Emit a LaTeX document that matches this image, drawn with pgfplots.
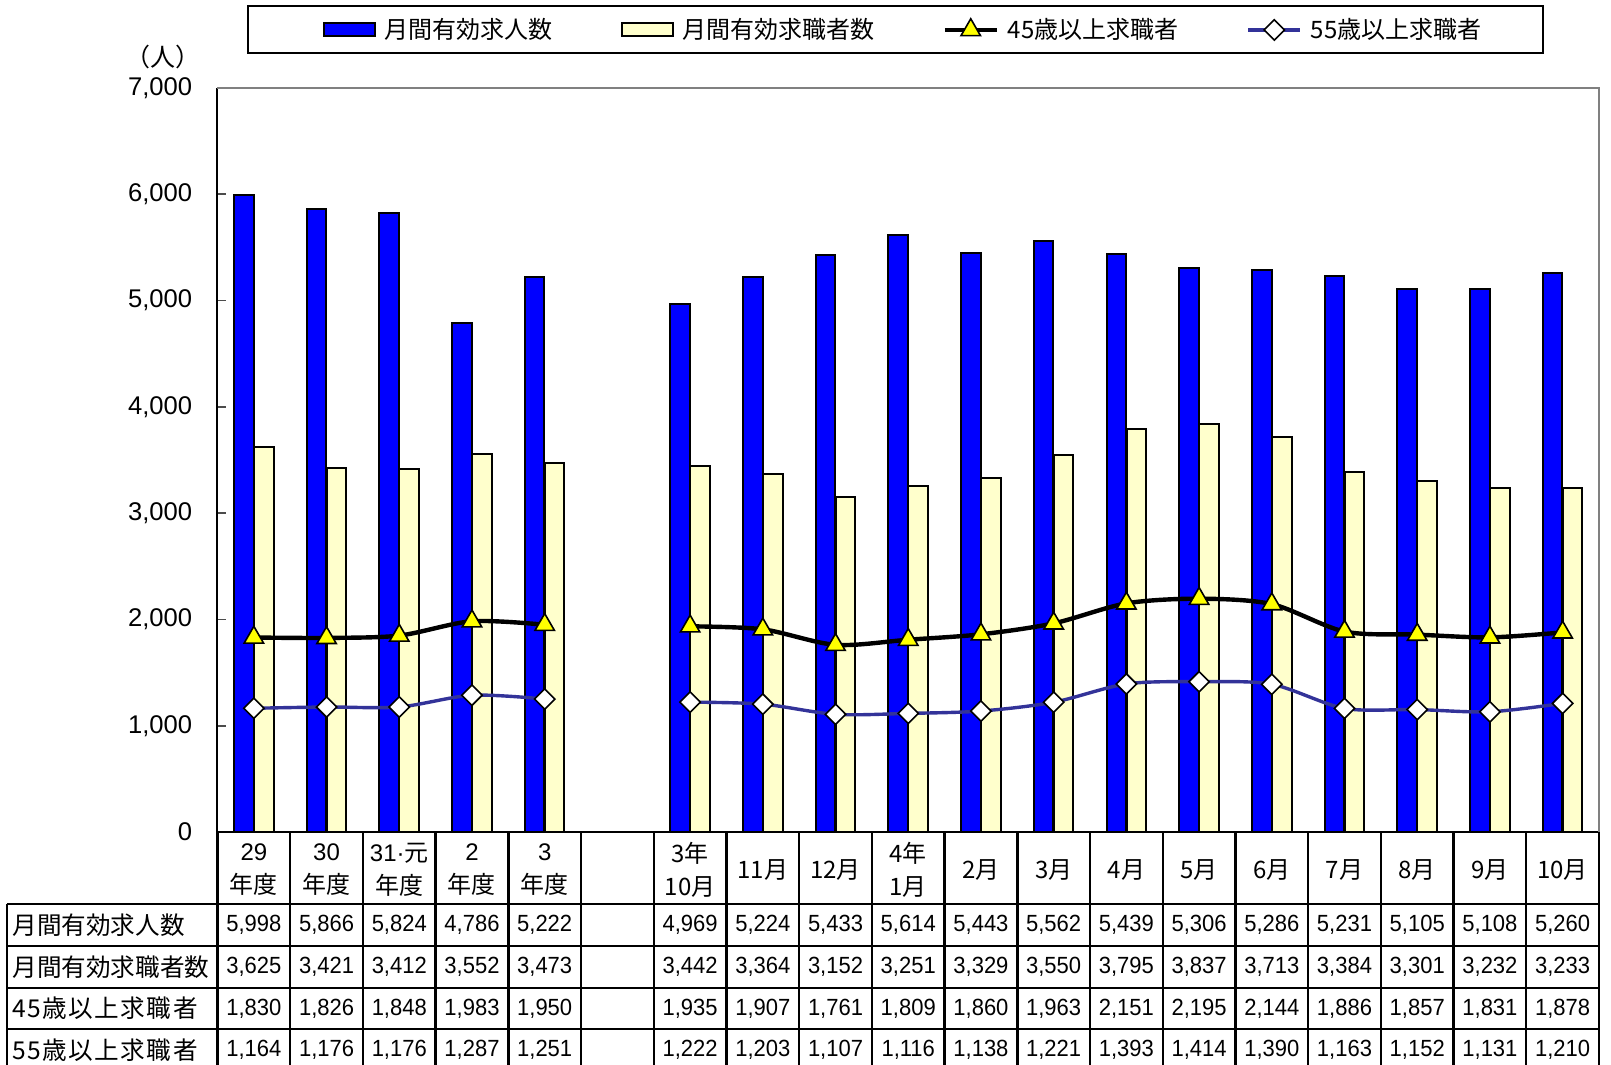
\documentclass[border=0pt]{standalone}
\usepackage{fontspec}
\setmainfont{Liberation Sans}
\newfontfamily\cjk{Noto Sans CJK JP}
\newfontfamily\latn{Liberation Sans}
\newfontfamily\numfont[FakeStretch=0.94]{Liberation Sans}
\usepackage{pgfplots}
\usepackage{pgfplotstable}
\pgfplotsset{compat=1.18}

\definecolor{jobblue}{RGB}{0,0,255}
\definecolor{cream}{RGB}{255,255,204}
\definecolor{line55}{RGB}{51,51,153}
\definecolor{tri}{RGB}{255,255,0}

\newcommand\gp{\hspace{0.06em}}

% x = slot (5 is the empty gap column)
\pgfplotstableread{
x jobs seekers s45 s55
0 5998 3625 1830 1164
1 5866 3421 1826 1176
2 5824 3412 1848 1176
3 4786 3552 1983 1287
4 5222 3473 1950 1251
}\annual

\pgfplotstableread{
x jobs seekers s45 s55
6 4969 3442 1935 1222
7 5224 3364 1907 1203
8 5433 3152 1761 1107
9 5614 3251 1809 1116
10 5443 3329 1860 1138
11 5562 3550 1963 1221
12 5439 3795 2151 1393
13 5306 3837 2195 1414
14 5286 3713 2144 1390
15 5231 3384 1886 1163
16 5105 3301 1857 1152
17 5108 3232 1831 1131
18 5260 3233 1878 1210
}\monthly

\pgfplotsset{
  barlegend/.style={legend image code/.code={%
    \draw[##1] (0pt,-3.25pt) rectangle (25.5pt,3.25pt);}},
  linelegend/.style={legend image code/.code={%
    \draw[mark repeat=2,mark phase=2,##1] plot coordinates {(0pt,0pt) (13pt,0pt) (26pt,0pt)};}},
  tablerow/.style={only marks, mark=none, forget plot, nodes near coords,
    point meta=explicit,
    nodes near coords style={anchor=center, inner sep=0pt, text=black,
      font=\fontsize{11.7}{11.7}\numfont}},
}

% one row of numbers in the table under the chart
\newcommand\tablerow[2]{%
  \addplot[tablerow] table[x=x, y expr=#2, meta=#1] {\annual};
  \addplot[tablerow] table[x=x, y expr=#2, meta=#1] {\monthly};
}

\begin{document}
\begin{tikzpicture}
  \path[use as bounding box] (-108.75pt,-116.5pt) rectangle (696.75pt,416pt);
  \begin{axis}[
    at={(0pt,0pt)}, anchor=south west,
    width=690.75pt, height=372pt,
    scale only axis,
    clip=false,
    xmin=-0.5, xmax=18.5,
    ymin=0, ymax=7000,
    axis lines*=left,
    axis line style={line width=1pt, black},
    ytick={0,1000,...,7000},
    scaled y ticks=false,
    tick align=inside,
    ytick style={line width=0.8pt, black!70},
    major tick length=4.5pt,
    /pgf/number format/.cd, 1000 sep={,}, assume math mode=true, /pgfplots/.cd,
    yticklabel style={inner sep=0pt, anchor=east, xshift=-12.5pt,
      font=\fontsize{12.8}{12.8}\latn},
    xtick={0,1,2,3,4,6,7,8,9,10,11,12,13,14,15,16,17,18},
    xtick style={draw=none},
    xticklabels={
      {{\latn 29}\\年度}, {{\latn 30}\\年度}, {{\latn 31·}元\\年度},
      {{\latn 2}\\年度}, {{\latn 3}\\年度},
      {3年\\10月}, {11月}, {12月}, {4年\\1月}, {2月}, {3月},
      {4月}, {5月}, {6月}, {7月}, {8月}, {9月}, {10月}},
    xticklabel style={align=center, anchor=center, yshift=-19pt,
      font=\fontsize{12}{16.5}\cjk},
    legend columns=4,
    legend style={at={(0.497,1.078)}, anchor=center, draw=none, fill=none,
      inner sep=0pt, font=\fontsize{12}{12}\cjk,
      /tikz/every odd column/.append style={column sep=2.5pt},
      /tikz/every even column/.append style={column sep=32pt}},
  ]

  % bars
  \addplot[ybar, bar width=9.8pt, bar shift=-5pt, fill=jobblue, draw=black,
    line width=1pt, barlegend] table[x=x, y=jobs] {\annual};
  \addlegendentry{月間有効求人数}
  \addplot[ybar, bar width=9.8pt, bar shift=-5pt, fill=jobblue, draw=black,
    line width=1pt, forget plot] table[x=x, y=jobs] {\monthly};

  \addplot[ybar, bar width=9.8pt, bar shift=5pt, fill=cream, draw=black,
    line width=1pt, barlegend] table[x=x, y=seekers] {\annual};
  \addlegendentry{月間有効求職者数}
  \addplot[ybar, bar width=9.8pt, bar shift=5pt, fill=cream, draw=black,
    line width=1pt, forget plot] table[x=x, y=seekers] {\monthly};

  % lines
  \addplot[black, line width=2.2pt, smooth, mark=triangle*, mark size=5.6pt,
    mark options={solid, fill=tri, draw=black, line width=0.8pt}, linelegend]
    table[x=x, y=s45] {\annual};
  \addlegendentry{45歳以上求職者}
  \addplot[black, line width=2.2pt, smooth, mark=triangle*, mark size=5.6pt,
    mark options={solid, fill=tri, draw=black, line width=0.8pt}, forget plot]
    table[x=x, y=s45] {\monthly};

  \addplot[line55, line width=1.7pt, smooth, mark=square*, mark size=3.6pt,
    mark options={solid, rotate=45, fill=white, draw=black, line width=0.8pt}, linelegend]
    table[x=x, y=s55] {\annual};
  \addlegendentry{55歳以上求職者}
  \addplot[line55, line width=1.7pt, smooth, mark=square*, mark size=3.6pt,
    mark options={solid, rotate=45, fill=white, draw=black, line width=0.8pt}, forget plot]
    table[x=x, y=s55] {\monthly};

  % plot area border (top and right)
  \draw[black!50, line width=1pt] (rel axis cs:0,1) -- (rel axis cs:1,1) -- (rel axis cs:1,0);

  % legend frame and unit
  \draw[black, line width=0.8pt] (axis description cs:0.0221,1.0470) rectangle (axis description cs:0.9595,1.1102);
  \node[font=\fontsize{12.5}{12.5}\cjk] at (axis description cs:-0.0394,1.0417) {（人）};

  % table grid
  \pgfplotsinvokeforeach{-0.5,0.5,1.5,2.5,3.5,4.5,5.5,6.5,7.5,8.5,9.5,10.5,11.5,12.5,13.5,14.5,15.5,16.5,17.5,18.5}{
    \draw[line width=1.2pt] (axis cs:#1,0) -- (axis cs:#1,-2500);
  }
  \draw[line width=1.2pt] (axis cs:-3.395,-677.4) -- (axis cs:-3.395,-2500);
  \draw[line width=1.2pt] (axis cs:-3.395,-677.4) -- (axis cs:18.5,-677.4);
  \draw[line width=1.2pt] (axis cs:-3.395,-1072.6) -- (axis cs:18.5,-1072.6);
  \draw[line width=1.2pt] (axis cs:-3.395,-1467.7) -- (axis cs:18.5,-1467.7);
  \draw[line width=1.2pt] (axis cs:-3.395,-1853.5) -- (axis cs:18.5,-1853.5);

  % row labels
  \node[anchor=west, inner sep=0pt, font=\fontsize{12.3}{12.3}\cjk] at (axis cs:-3.326,-875) {月間有効求人数};
  \node[anchor=west, inner sep=0pt, font=\fontsize{12.3}{12.3}\cjk] at (axis cs:-3.326,-1270) {月間有効求職者数};
  \node[anchor=west, inner sep=0pt, font=\fontsize{12.3}{12.3}\cjk] at (axis cs:-3.326,-1661) {4\gp 5\gp 歳\gp 以\gp 上\gp 求\gp 職\gp 者};
  \node[anchor=west, inner sep=0pt, font=\fontsize{12.3}{12.3}\cjk] at (axis cs:-3.326,-2051) {5\gp 5\gp 歳\gp 以\gp 上\gp 求\gp 職\gp 者};

  % table values
  \tablerow{jobs}{-875}
  \tablerow{seekers}{-1270}
  \tablerow{s45}{-1661}
  \tablerow{s55}{-2051}

  \end{axis}
\end{tikzpicture}
\end{document}
